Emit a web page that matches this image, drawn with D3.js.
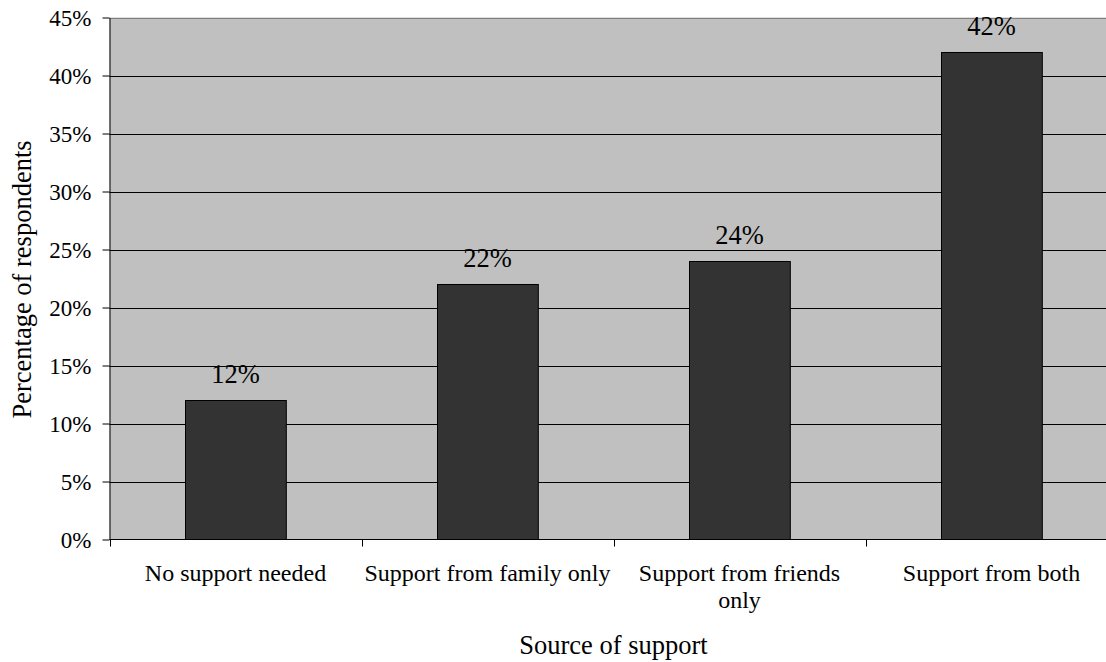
<!DOCTYPE html>
<html>
<head>
<meta charset="utf-8">
<script src="https://cdn.jsdelivr.net/npm/d3@7"></script>
<style>
  html, body { margin: 0; padding: 0; background: #ffffff; }
  svg { display: block; }
</style>
</head>
<body>
<svg id="chart" width="1106" height="662"></svg>
<script>
// Survey results: share of respondents by source of support
const categories = [
  ["No support needed"],
  ["Support from family only"],
  ["Support from friends", "only"],
  ["Support from both"]
];
const values = [12, 22, 24, 42];
const yTicks = [0, 5, 10, 15, 20, 25, 30, 35, 40, 45];
const xTitle = "Source of support";
const yTitle = "Percentage of respondents";

const FONT = "Liberation Serif";
const svg = d3.select("#chart");
const plot = { left: 109.5, right: 1117.5, top: 17.5, bottom: 539.5 };
const keys = categories.map(c => c.join(" "));

const x = d3.scaleBand()
  .domain(keys)
  .range([plot.left, plot.right])
  .paddingInner(0.6)
  .paddingOuter(0.3);

const y = d3.scaleLinear()
  .domain([0, 45])
  .range([plot.bottom, plot.top]);

// plot background
svg.append("rect")
  .attr("x", plot.left)
  .attr("y", plot.top)
  .attr("width", plot.right - plot.left)
  .attr("height", plot.bottom - plot.top)
  .attr("fill", "#c0c0c0");

// horizontal gridlines
svg.append("g")
  .selectAll("line")
  .data(yTicks.filter(t => t > 0))
  .join("line")
  .attr("x1", plot.left)
  .attr("x2", plot.right)
  .attr("y1", d => Math.round(y(d)) + 0.5)
  .attr("y2", d => Math.round(y(d)) + 0.5)
  .attr("stroke", d => d === 45 ? "#808080" : "#000")
  .attr("stroke-width", 1);

// bars
svg.append("g")
  .selectAll("rect")
  .data(values)
  .join("rect")
  .attr("x", (d, i) => Math.round(x(keys[i])) + 0.5)
  .attr("y", d => Math.round(y(d)) + 0.5)
  .attr("width", x.bandwidth())
  .attr("height", d => y(0) - Math.round(y(d)) - 0.5)
  .attr("fill", "#333333")
  .attr("stroke", "#000")
  .attr("stroke-width", 1);

// value labels
svg.append("g")
  .selectAll("text")
  .data(values)
  .join("text")
  .attr("x", (d, i) => x(keys[i]) + x.bandwidth() / 2)
  .attr("y", d => y(d) - 17.5)
  .attr("text-anchor", "middle")
  .attr("font-size", 26.5)
  .style("font-family", FONT)
  .text(d => d + "%");

// y axis
const yAxis = d3.axisLeft(y)
  .tickValues(yTicks)
  .tickFormat(d => d + "%")
  .tickSizeInner(7)
  .tickSizeOuter(0)
  .tickPadding(11);
const gy = svg.append("g")
  .attr("transform", `translate(${plot.left},0)`)
  .call(yAxis);
gy.select(".domain").attr("stroke", "#000");
gy.selectAll(".tick line").attr("stroke", "#000");
gy.selectAll(".tick text")
  .attr("font-size", 23)
  .attr("fill", "#000")
  .style("font-family", FONT)
  .attr("dy", "0.35em");

// x axis line and ticks at category boundaries
svg.append("line")
  .attr("x1", plot.left).attr("x2", plot.right)
  .attr("y1", plot.bottom).attr("y2", plot.bottom)
  .attr("stroke", "#000");
const bounds = d3.range(keys.length + 1).map(i => plot.left + i * x.step());
svg.append("g")
  .selectAll("line")
  .data(bounds)
  .join("line")
  .attr("x1", d => Math.round(d) + 0.5)
  .attr("x2", d => Math.round(d) + 0.5)
  .attr("y1", plot.bottom)
  .attr("y2", plot.bottom + 7)
  .attr("stroke", "#000");

// category labels (wrapped lines)
const cat = svg.append("g")
  .selectAll("text")
  .data(categories)
  .join("text")
  .attr("x", (d, i) => x(keys[i]) + x.bandwidth() / 2)
  .attr("y", 581)
  .attr("text-anchor", "middle")
  .attr("font-size", 24)
  .style("font-family", FONT);
cat.selectAll("tspan")
  .data(d => d)
  .join("tspan")
  .attr("x", function () { return this.parentNode.getAttribute("x"); })
  .attr("dy", (d, i) => i === 0 ? 0 : 27)
  .text(d => d);

// axis titles
svg.append("text")
  .attr("x", (plot.left + plot.right) / 2)
  .attr("y", 654)
  .attr("text-anchor", "middle")
  .attr("font-size", 26.5)
  .style("font-family", FONT)
  .text(xTitle);

svg.append("text")
  .attr("transform", `translate(31,${(plot.top + plot.bottom) / 2 + 1}) rotate(-90)`)
  .attr("text-anchor", "middle")
  .attr("font-size", 26.5)
  .style("font-family", FONT)
  .text(yTitle);
</script>
</body>
</html>
